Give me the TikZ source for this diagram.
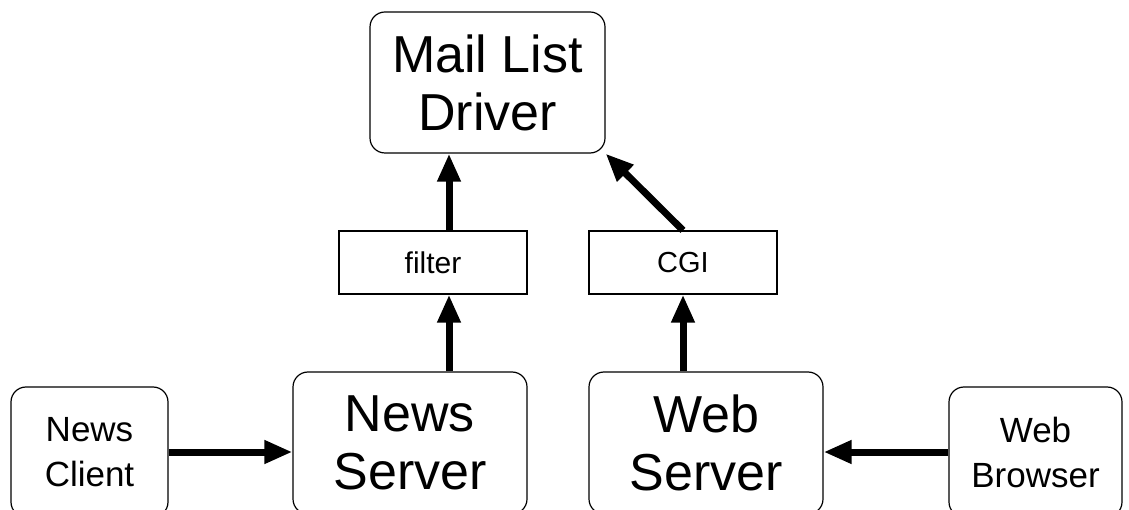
\documentclass[tikz,border=0pt]{standalone}
\usepackage{fontspec}
\setmainfont{Liberation Sans}
\usetikzlibrary{positioning}
\usetikzlibrary{arrows.meta}
\tikzset{rbox/.style={draw,rounded corners=15pt,line width=1.2pt,align=center,inner sep=0pt}}
\tikzset{sbox/.style={draw,line width=1.2pt,inner sep=0pt,minimum width=188pt,minimum height=63pt}}
\tikzset{bigtxt/.style={font=\fontsize{52}{58}\selectfont}}
\tikzset{midtxt/.style={font=\fontsize{35}{45}\selectfont}}
\tikzset{>={Triangle[length=28pt,width=22pt]}}
\tikzset{fl/.style={->,line width=7pt}}

\begin{document}
\begin{tikzpicture}[x=1pt,y=-1pt]
\useasboundingbox (0,0) rectangle (1129,510);
\clip (0,0) rectangle (1129,510);

\node[rbox,bigtxt,minimum width=235pt,minimum height=141pt] (mld) at (487.5,82.5) {Mail List\\Driver};
\node[sbox,font=\fontsize{30}{36}\selectfont] (fil) at (433,262.5) {filter};
\node[sbox,font=\fontsize{29}{36}\selectfont] (cgi) at (683,262.5) {CGI};

\node[rbox,bigtxt,minimum width=234pt,minimum height=142pt] (ns) at (410,443) {News\\Server};
\node[rbox,bigtxt,minimum width=234pt,minimum height=142pt] (ws) at (706,443) {Web\\Server};
\node[rbox,midtxt,minimum width=157pt,minimum height=130pt] (nc) at (89.5,452) {News\\Client};
\node[rbox,midtxt,minimum width=173pt,minimum height=130pt] (wb) at (1035.5,452) {Web\\Browser};

\coordinate (colN) at (449,0);

\draw[fl] (nc.east) -- (nc.east -| ns.west);
\draw[fl] (wb.west) -- (wb.west -| ws.east);
\draw[fl] (ns.north -| colN) -- (fil.south -| colN);
\draw[fl] (fil.north -| colN) -- (mld.south -| colN);
\draw[fl] (ws.north -| cgi.south) -- (cgi.south);
\draw[fl] (cgi.north) -- (mld.south east);
\end{tikzpicture}
\end{document}
